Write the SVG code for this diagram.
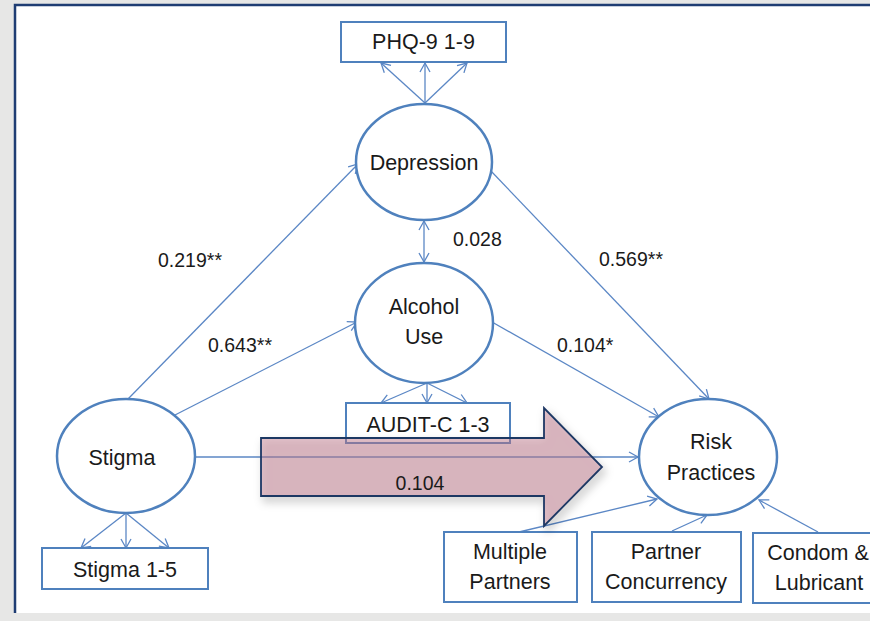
<svg xmlns="http://www.w3.org/2000/svg" width="870" height="621" viewBox="0 0 870 621">
  <defs>
    <marker id="arr" markerUnits="userSpaceOnUse" markerWidth="14" markerHeight="14" viewBox="0 0 14 14" refX="12" refY="7" orient="auto-start-reverse">
      <path d="M3,2 L12,7 L3,12" fill="none" stroke="#5b87c5" stroke-width="1.3"/>
    </marker>
    <filter id="shadow" x="-10%" y="-20%" width="130%" height="160%">
      <feDropShadow dx="3" dy="5" stdDeviation="4" flood-color="#000" flood-opacity="0.3"/>
    </filter>
  </defs>
  <style>
    .conn { stroke: #5b87c5; stroke-width: 1.3; fill: none; marker-end: url(#arr); }
    .ell { fill: #ffffff; stroke: #4f81bd; stroke-width: 2.5; }
    .box { fill: #ffffff; stroke: #4f81bd; stroke-width: 2; }
    .t { font-family: "Liberation Sans", Arial, sans-serif; font-size: 21.5px; fill: #1a1a1a; text-anchor: middle; }
    .lbl { font-family: "Liberation Sans", Arial, sans-serif; font-size: 19.5px; fill: #1a1a1a; }
  </style>

  <rect x="0" y="0" width="870" height="621" fill="#e7e7e6"/>
  <rect x="15" y="5" width="860" height="608" fill="#ffffff"/>
  <path d="M15,613 L15,5 L875,5" fill="none" stroke="#1f3d73" stroke-width="2.5"/>

  <g id="connectors">
    <line class="conn" x1="425" y1="103" x2="381" y2="63"/>
    <line class="conn" x1="425" y1="103" x2="425" y2="63"/>
    <line class="conn" x1="425" y1="103" x2="467" y2="63"/>
    <line class="conn" x1="427" y1="383" x2="381" y2="403"/>
    <line class="conn" x1="427" y1="383" x2="427" y2="403"/>
    <line class="conn" x1="427" y1="383" x2="467" y2="403"/>
    <line class="conn" x1="126" y1="513" x2="81" y2="548"/>
    <line class="conn" x1="126" y1="513" x2="126" y2="548"/>
    <line class="conn" x1="126" y1="513" x2="169" y2="548"/>
    <line class="conn" x1="128" y1="399" x2="358" y2="164"/>
    <line class="conn" x1="175" y1="415" x2="357" y2="322"/>
    <line class="conn" x1="195" y1="457" x2="638" y2="457"/>
    <line class="conn" x1="490" y1="170" x2="709" y2="399"/>
    <line class="conn" x1="492" y1="322" x2="659" y2="417"/>
    <line class="conn" x1="424" y1="221" x2="424" y2="262" marker-start="url(#arr)"/>
    <line class="conn" x1="519" y1="532" x2="657" y2="499"/>
    <line class="conn" x1="672" y1="531" x2="707" y2="515"/>
    <line class="conn" x1="818" y1="532" x2="759" y2="500"/>
  </g>

  <g id="phq">
    <rect class="box" x="341" y="22" width="165" height="40"/>
    <text class="t" x="423.5" y="49">PHQ-9 1-9</text>
  </g>
  <g id="depression">
    <ellipse class="ell" cx="424" cy="162" rx="68" ry="58"/>
    <text class="t" x="424" y="170">Depression</text>
  </g>
  <g id="alcohol">
    <ellipse class="ell" cx="424" cy="323" rx="69" ry="60"/>
    <text class="t" x="424" y="314">Alcohol</text>
    <text class="t" x="424" y="344">Use</text>
  </g>
  <g id="audit">
    <rect class="box" x="346" y="403" width="164" height="40"/>
    <text class="t" x="428" y="432">AUDIT-C 1-3</text>
  </g>
  <g id="stigma">
    <ellipse class="ell" cx="126" cy="456" rx="69" ry="57"/>
    <text class="t" x="122" y="465">Stigma</text>
  </g>
  <g id="stigma15">
    <rect class="box" x="42" y="548" width="166" height="41"/>
    <text class="t" x="125" y="577">Stigma 1-5</text>
  </g>
  <g id="risk">
    <ellipse class="ell" cx="708" cy="457" rx="69" ry="58"/>
    <text class="t" x="711" y="449">Risk</text>
    <text class="t" x="711" y="480">Practices</text>
  </g>
  <g id="multiple">
    <rect class="box" x="444" y="532" width="133" height="70"/>
    <text class="t" x="510" y="559">Multiple</text>
    <text class="t" x="510" y="589">Partners</text>
  </g>
  <g id="concurrency">
    <rect class="box" x="592" y="532" width="149" height="70"/>
    <text class="t" x="666" y="559">Partner</text>
    <text class="t" x="666" y="589">Concurrency</text>
  </g>
  <g id="condom">
    <rect class="box" x="753" y="533" width="130" height="70"/>
    <text class="t" x="818" y="560">Condom &amp;</text>
    <text class="t" x="819" y="590">Lubricant</text>
  </g>

  <g id="labels">
    <text class="lbl" x="158" y="267">0.219**</text>
    <text class="lbl" x="208" y="352">0.643**</text>
    <text class="lbl" x="453" y="246">0.028</text>
    <text class="lbl" x="599" y="266">0.569**</text>
    <text class="lbl" x="557" y="352">0.104*</text>
  </g>

  <g id="big-arrow">
    <path d="M261,438 L544,438 L544,408 L602,467 L544,526 L544,496 L261,496 Z" fill="#c27a8c" fill-opacity="0.45" stroke="#1f3864" stroke-width="1.8" stroke-linejoin="miter" filter="url(#shadow)"/>
    <text class="lbl" x="420" y="490" text-anchor="middle">0.104</text>
  </g>
</svg>
